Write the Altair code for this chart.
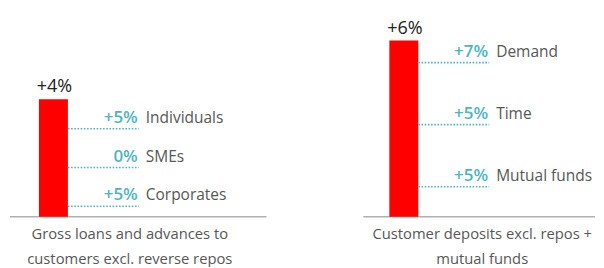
import altair as alt
import pandas as pd

# ---- data ----
panel_titles = ["Gross loans and advances to\ncustomers excl. reverse repos",
                "Customer deposits excl. repos +\nmutual funds"]
totals = [4, 6]
left_cats = ["Individuals", "SMEs", "Corporates"]
left_vals = [5, 0, 5]
right_cats = ["Demand", "Time", "Mutual funds"]
right_vals = [7, 5, 5]

RED = "#fe0000"
TEAL = "#4db5c1"
GRAY = "#575757"
FONT = "Open Sans"
H = 209
YMAX = 7.1


def fmt(v):
    return ("+%d%%" % v) if v > 0 else ("%d%%" % v)


def panel(title, total, cats, vals, W, bar_x, first_frac, step, title_x):
    yscale = alt.Scale(domain=[0, YMAX])
    tot = pd.DataFrame({"total": [total], "zero": [0], "lab": [fmt(total)], "title": [title]})
    n = len(cats)
    # decorative leader-line positions, spread evenly inside the bar (top to bottom)
    pos = [total * (first_frac - step * i) for i in range(n)]
    sub = pd.DataFrame({"cat": cats, "val": vals, "lab": [fmt(v) for v in vals], "pos": pos})

    bx0, bx1 = bar_x, bar_x + 29
    rx1 = bx1 + 71
    Y = lambda f: alt.Y(f, scale=yscale, axis=None)

    bar = alt.Chart(tot).mark_rule(color=RED, strokeWidth=29, strokeCap="butt").encode(
        x=alt.value((bx0 + bx1) / 2), y=Y("total:Q"), y2="zero:Q")
    top = alt.Chart(tot).mark_text(font=FONT, fontSize=18, color="#222222",
                                   baseline="alphabetic", dy=-7).encode(
        x=alt.value((bx0 + bx1) / 2 + 1), y=Y("total:Q"), text="lab:N")
    base = alt.Chart(tot).mark_rule(color="#b0b0b0", strokeWidth=1.5).encode(
        x=alt.value(2), x2=alt.value(W), y=Y("zero:Q"))
    lines = alt.Chart(sub).mark_rule(color=TEAL, strokeWidth=1.6, strokeDash=[1.6, 1.6]).encode(
        x=alt.value(bx1), x2=alt.value(rx1), y=Y("pos:Q"))
    vlab = alt.Chart(sub).mark_text(font=FONT, fontSize=17, fontWeight=600, color=TEAL,
                                    align="right", baseline="alphabetic", dy=-6).encode(
        x=alt.value(rx1 - 1), y=Y("pos:Q"), text="lab:N")
    clab = alt.Chart(sub).mark_text(font=FONT, fontSize=15.5, color=GRAY, align="left",
                                    baseline="alphabetic", dy=-6).encode(
        x=alt.value(rx1 + 7), y=Y("pos:Q"), text="cat:N")
    ttl = alt.Chart(tot).mark_text(font=FONT, fontSize=14.8, color=GRAY, align="center",
                                   baseline="top", lineBreak="\n", lineHeight=25).encode(
        x=alt.value(title_x), y=alt.value(H + 10), text="title:N")
    return alt.layer(base, bar, top, lines, vlab, clab, ttl).properties(width=W, height=H)


left = panel(panel_titles[0], totals[0], left_cats, left_vals, W=259, bar_x=31,
             first_frac=0.75, step=0.33, title_x=122)
right = panel(panel_titles[1], totals[1], right_cats, right_vals, W=234, bar_x=28,
              first_frac=0.875, step=0.352, title_x=121)

chart = alt.hconcat(left, right, spacing=95, bounds="flush").properties(
    padding=0, background="white"
).configure_view(stroke=None)

chart.save("out.html", embed_options={"renderer": "svg", "actions": False})
